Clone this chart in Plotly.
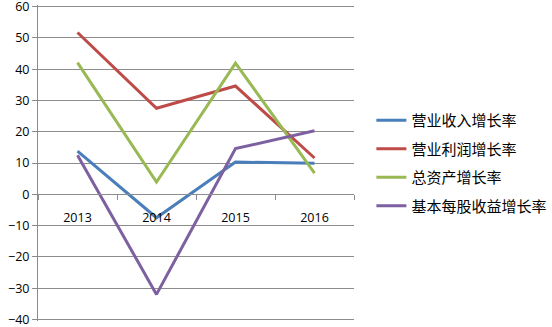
import plotly.graph_objects as go

years = ["2013", "2014", "2015", "2016"]
revenue_growth = [13.8, -7.5, 10.3, 9.9]
profit_growth = [51.7, 27.5, 34.6, 11.6]
asset_growth = [42.1, 3.9, 41.9, 6.8]
eps_growth = [12.5, -32.0, 14.6, 20.3]

series = [
    ("营业收入增长率", revenue_growth, "#4A7EBB"),
    ("营业利润增长率", profit_growth, "#BE4B48"),
    ("总资产增长率", asset_growth, "#98B954"),
    ("基本每股收益增长率", eps_growth, "#7D60A0"),
]

fig = go.Figure()
for i, (name, vals, color) in enumerate(series):
    fig.add_trace(go.Scatter(x=years, y=vals, name=name, mode="lines",
                             line=dict(color=color, width=3),
                             legendgroup=str(i)))

grid = "#8C8C8C"
fig.update_layout(
    width=552, height=327,
    margin=dict(l=38, r=198, t=5.4, b=6.4, autoexpand=False),
    paper_bgcolor="white", plot_bgcolor="white",
    font=dict(family="Open Sans, Noto Sans CJK SC", size=12.5, color="black"),
    showlegend=True,
    legend=dict(x=1.055, xanchor="left", y=0.5, yanchor="middle",
                font=dict(family="Noto Sans CJK SC", size=15, color="black"),
                tracegroupgap=6, traceorder="grouped",
                bgcolor="rgba(0,0,0,0)"),
    xaxis=dict(type="category", range=[-0.5, 3.5], showgrid=False,
               showline=True, linecolor=grid,
               linewidth=1, ticks="outside", tickson="boundaries", ticklen=5,
               tickcolor=grid, anchor="free", position=40.5 / 101,
               ticklabelstandoff=12),
    yaxis=dict(range=[-40.5, 60.5], tickvals=list(range(-40, 61, 10)),
               showgrid=True, gridcolor=grid, ticklabeloverflow="allow",
               gridwidth=1, zeroline=False, showline=True, linecolor=grid,
               ticks="outside", ticklen=5, tickcolor=grid),
)

fig.write_html("out.html", config={"displayModeBar": False},
               post_script="document.body.style.margin='0';document.body.style.padding='0';")
